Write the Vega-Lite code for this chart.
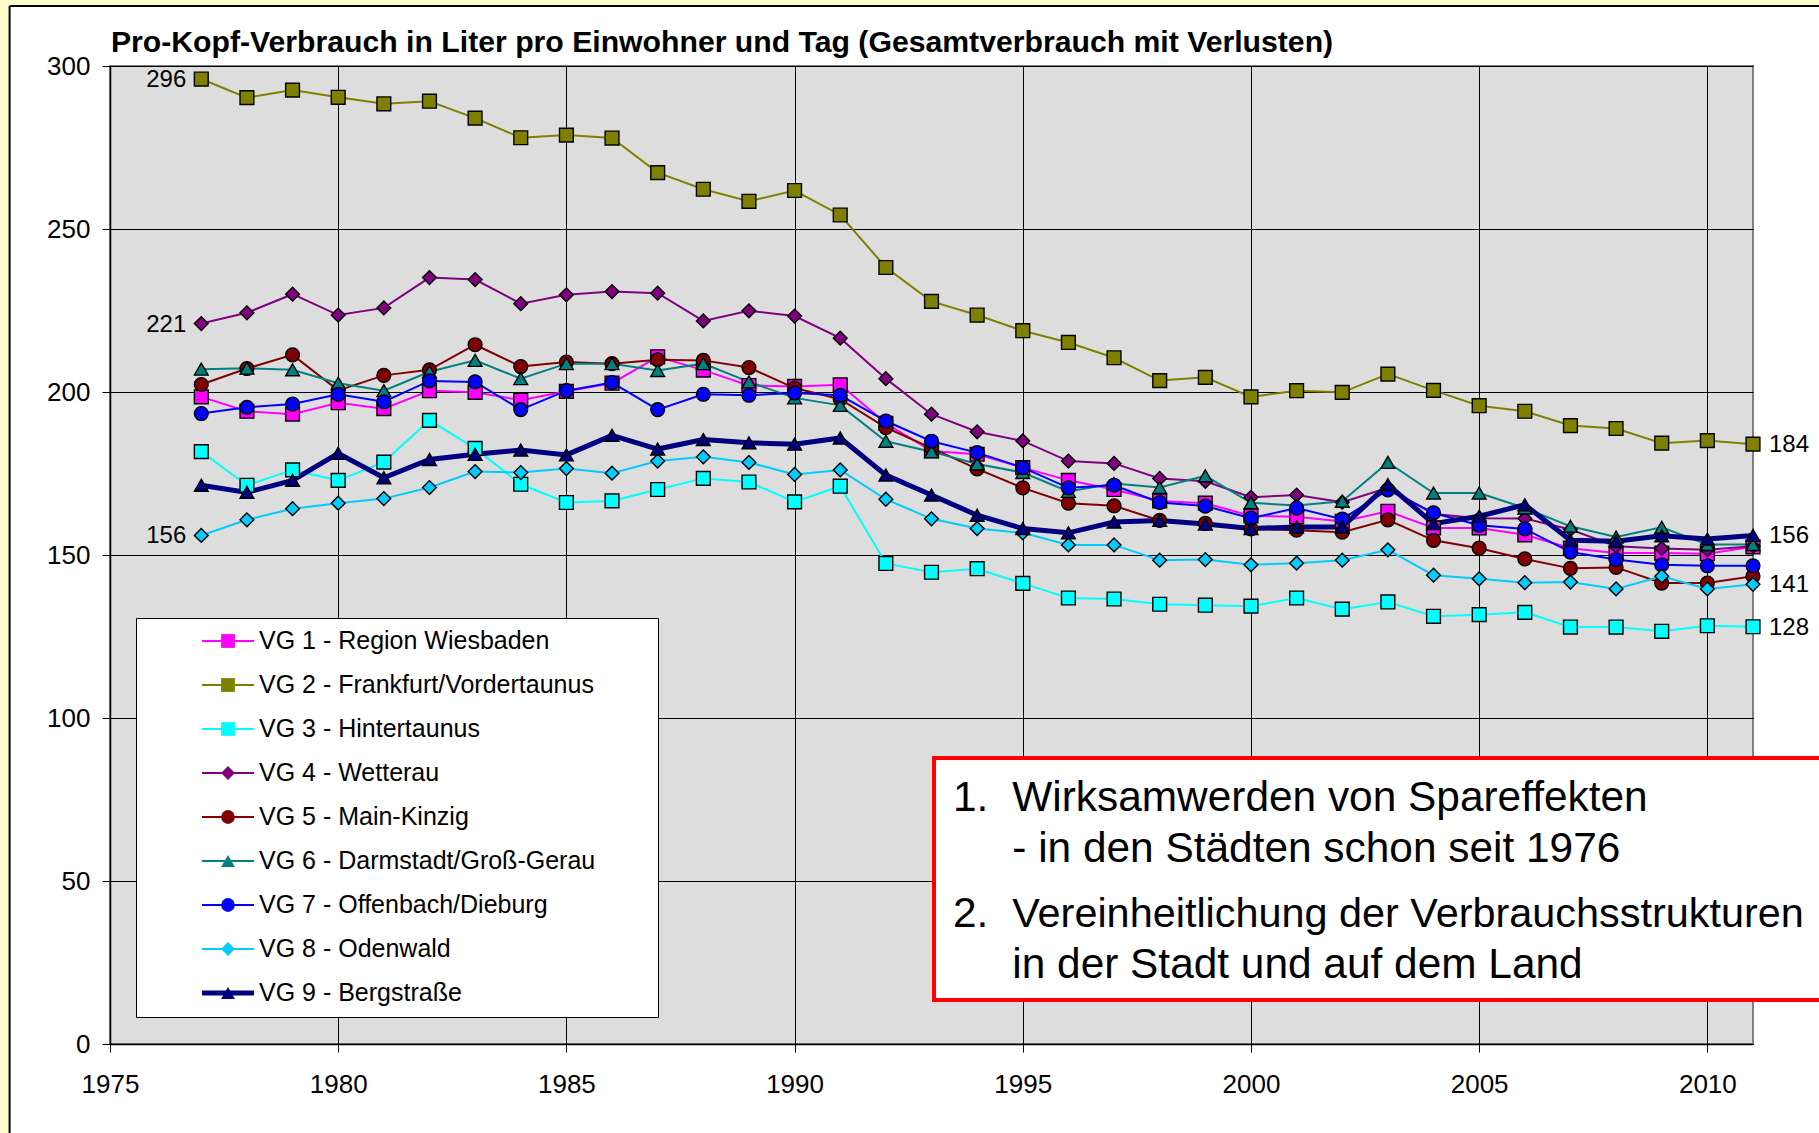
{
"$schema": "https://vega.github.io/schema/vega-lite/v6.json",
"autosize": {"type": "none"},
"width": 1643,
"height": 978,
"padding": {"left": 110, "top": 66, "right": 66, "bottom": 89},
"background": "white",
"config": {
  "font": "Liberation Sans",
  "view": {"fill": "#DDDDDD", "stroke": "#808080", "strokeWidth": 2},
  "axis": {"labelFont": "Liberation Sans", "labelFontSize": 26, "labelColor": "black", "tickColor": "black", "tickSize": 8, "tickWidth": 1, "domainColor": "black", "domainWidth": 1.5, "grid": true, "gridColor": "black", "gridWidth": 1, "gridOpacity": 1, "title": null, "labelFlush": false, "labelOverlap": false},
  "axisX": {"labelPadding": 19},
  "axisY": {"labelPadding": 12}
},
"datasets": {
  "gebiete": [
    {"VG": 1, "Name": "VG 1 - Region Wiesbaden"},
    {"VG": 2, "Name": "VG 2 - Frankfurt/Vordertaunus"},
    {"VG": 3, "Name": "VG 3 - Hintertaunus"},
    {"VG": 4, "Name": "VG 4 - Wetterau"},
    {"VG": 5, "Name": "VG 5 - Main-Kinzig"},
    {"VG": 6, "Name": "VG 6 - Darmstadt/Groß-Gerau"},
    {"VG": 7, "Name": "VG 7 - Offenbach/Dieburg"},
    {"VG": 8, "Name": "VG 8 - Odenwald"},
    {"VG": 9, "Name": "VG 9 - Bergstraße"}
  ],
  "verbrauch": [
{"Jahr":1977,"VG":1,"Liter":198.5},{"Jahr":1977,"VG":2,"Liter":296},{"Jahr":1977,"VG":3,"Liter":181.7},{"Jahr":1977,"VG":4,"Liter":221},{"Jahr":1977,"VG":5,"Liter":202.3},{"Jahr":1977,"VG":6,"Liter":207.0},{"Jahr":1977,"VG":7,"Liter":193.4},{"Jahr":1977,"VG":8,"Liter":156},{"Jahr":1977,"VG":9,"Liter":171.4},
{"Jahr":1978,"VG":1,"Liter":194.1},{"Jahr":1978,"VG":2,"Liter":290.3},{"Jahr":1978,"VG":3,"Liter":171.4},{"Jahr":1978,"VG":4,"Liter":224.3},{"Jahr":1978,"VG":5,"Liter":207.2},{"Jahr":1978,"VG":6,"Liter":207.3},{"Jahr":1978,"VG":7,"Liter":195.3},{"Jahr":1978,"VG":8,"Liter":160.8},{"Jahr":1978,"VG":9,"Liter":169.2},
{"Jahr":1979,"VG":1,"Liter":193.2},{"Jahr":1979,"VG":2,"Liter":292.6},{"Jahr":1979,"VG":3,"Liter":176.1},{"Jahr":1979,"VG":4,"Liter":230.0},{"Jahr":1979,"VG":5,"Liter":211.4},{"Jahr":1979,"VG":6,"Liter":206.8},{"Jahr":1979,"VG":7,"Liter":196.3},{"Jahr":1979,"VG":8,"Liter":164.2},{"Jahr":1979,"VG":9,"Liter":172.9},
{"Jahr":1980,"VG":1,"Liter":196.7},{"Jahr":1980,"VG":2,"Liter":290.4},{"Jahr":1980,"VG":3,"Liter":172.9},{"Jahr":1980,"VG":4,"Liter":223.6},{"Jahr":1980,"VG":5,"Liter":200.5},{"Jahr":1980,"VG":6,"Liter":202.7},{"Jahr":1980,"VG":7,"Liter":199.3},{"Jahr":1980,"VG":8,"Liter":165.9},{"Jahr":1980,"VG":9,"Liter":181.2},
{"Jahr":1981,"VG":1,"Liter":194.9},{"Jahr":1981,"VG":2,"Liter":288.4},{"Jahr":1981,"VG":3,"Liter":178.5},{"Jahr":1981,"VG":4,"Liter":225.8},{"Jahr":1981,"VG":5,"Liter":205.1},{"Jahr":1981,"VG":6,"Liter":200.4},{"Jahr":1981,"VG":7,"Liter":197.0},{"Jahr":1981,"VG":8,"Liter":167.3},{"Jahr":1981,"VG":9,"Liter":173.7},
{"Jahr":1982,"VG":1,"Liter":200.4},{"Jahr":1982,"VG":2,"Liter":289.2},{"Jahr":1982,"VG":3,"Liter":191.3},{"Jahr":1982,"VG":4,"Liter":235.1},{"Jahr":1982,"VG":5,"Liter":206.8},{"Jahr":1982,"VG":6,"Liter":206.2},{"Jahr":1982,"VG":7,"Liter":203.4},{"Jahr":1982,"VG":8,"Liter":170.7},{"Jahr":1982,"VG":9,"Liter":179.3},
{"Jahr":1983,"VG":1,"Liter":199.9},{"Jahr":1983,"VG":2,"Liter":284.0},{"Jahr":1983,"VG":3,"Liter":182.7},{"Jahr":1983,"VG":4,"Liter":234.5},{"Jahr":1983,"VG":5,"Liter":214.5},{"Jahr":1983,"VG":6,"Liter":209.7},{"Jahr":1983,"VG":7,"Liter":203.1},{"Jahr":1983,"VG":8,"Liter":175.6},{"Jahr":1983,"VG":9,"Liter":180.9},
{"Jahr":1984,"VG":1,"Liter":197.5},{"Jahr":1984,"VG":2,"Liter":278.0},{"Jahr":1984,"VG":3,"Liter":171.7},{"Jahr":1984,"VG":4,"Liter":227.1},{"Jahr":1984,"VG":5,"Liter":207.8},{"Jahr":1984,"VG":6,"Liter":204.1},{"Jahr":1984,"VG":7,"Liter":194.6},{"Jahr":1984,"VG":8,"Liter":175.3},{"Jahr":1984,"VG":9,"Liter":182.2},
{"Jahr":1985,"VG":1,"Liter":200.2},{"Jahr":1985,"VG":2,"Liter":278.8},{"Jahr":1985,"VG":3,"Liter":166.1},{"Jahr":1985,"VG":4,"Liter":229.8},{"Jahr":1985,"VG":5,"Liter":209.2},{"Jahr":1985,"VG":6,"Liter":208.7},{"Jahr":1985,"VG":7,"Liter":200.4},{"Jahr":1985,"VG":8,"Liter":176.5},{"Jahr":1985,"VG":9,"Liter":180.7},
{"Jahr":1986,"VG":1,"Liter":202.7},{"Jahr":1986,"VG":2,"Liter":277.9},{"Jahr":1986,"VG":3,"Liter":166.6},{"Jahr":1986,"VG":4,"Liter":230.8},{"Jahr":1986,"VG":5,"Liter":208.7},{"Jahr":1986,"VG":6,"Liter":208.7},{"Jahr":1986,"VG":7,"Liter":202.9},{"Jahr":1986,"VG":8,"Liter":175.1},{"Jahr":1986,"VG":9,"Liter":186.7},
{"Jahr":1987,"VG":1,"Liter":210.8},{"Jahr":1987,"VG":2,"Liter":267.3},{"Jahr":1987,"VG":3,"Liter":170.1},{"Jahr":1987,"VG":4,"Liter":230.3},{"Jahr":1987,"VG":5,"Liter":209.9},{"Jahr":1987,"VG":6,"Liter":206.6},{"Jahr":1987,"VG":7,"Liter":194.6},{"Jahr":1987,"VG":8,"Liter":178.8},{"Jahr":1987,"VG":9,"Liter":182.5},
{"Jahr":1988,"VG":1,"Liter":206.7},{"Jahr":1988,"VG":2,"Liter":262.2},{"Jahr":1988,"VG":3,"Liter":173.5},{"Jahr":1988,"VG":4,"Liter":221.8},{"Jahr":1988,"VG":5,"Liter":209.7},{"Jahr":1988,"VG":6,"Liter":208.7},{"Jahr":1988,"VG":7,"Liter":199.3},{"Jahr":1988,"VG":8,"Liter":180.1},{"Jahr":1988,"VG":9,"Liter":185.4},
{"Jahr":1989,"VG":1,"Liter":202.0},{"Jahr":1989,"VG":2,"Liter":258.5},{"Jahr":1989,"VG":3,"Liter":172.4},{"Jahr":1989,"VG":4,"Liter":224.9},{"Jahr":1989,"VG":5,"Liter":207.5},{"Jahr":1989,"VG":6,"Liter":203.1},{"Jahr":1989,"VG":7,"Liter":199.0},{"Jahr":1989,"VG":8,"Liter":178.4},{"Jahr":1989,"VG":9,"Liter":184.4},
{"Jahr":1990,"VG":1,"Liter":201.7},{"Jahr":1990,"VG":2,"Liter":261.8},{"Jahr":1990,"VG":3,"Liter":166.3},{"Jahr":1990,"VG":4,"Liter":223.3},{"Jahr":1990,"VG":5,"Liter":201.2},{"Jahr":1990,"VG":6,"Liter":198.2},{"Jahr":1990,"VG":7,"Liter":199.7},{"Jahr":1990,"VG":8,"Liter":174.7},{"Jahr":1990,"VG":9,"Liter":184.0},
{"Jahr":1991,"VG":1,"Liter":202.2},{"Jahr":1991,"VG":2,"Liter":254.3},{"Jahr":1991,"VG":3,"Liter":171.1},{"Jahr":1991,"VG":4,"Liter":216.5},{"Jahr":1991,"VG":5,"Liter":197.8},{"Jahr":1991,"VG":6,"Liter":195.9},{"Jahr":1991,"VG":7,"Liter":199.0},{"Jahr":1991,"VG":8,"Liter":176.1},{"Jahr":1991,"VG":9,"Liter":185.9},
{"Jahr":1992,"VG":1,"Liter":190.4},{"Jahr":1992,"VG":2,"Liter":238.2},{"Jahr":1992,"VG":3,"Liter":147.4},{"Jahr":1992,"VG":4,"Liter":204.1},{"Jahr":1992,"VG":5,"Liter":189.1},{"Jahr":1992,"VG":6,"Liter":184.9},{"Jahr":1992,"VG":7,"Liter":191.1},{"Jahr":1992,"VG":8,"Liter":167.1},{"Jahr":1992,"VG":9,"Liter":174.5},
{"Jahr":1993,"VG":1,"Liter":181.9},{"Jahr":1993,"VG":2,"Liter":227.8},{"Jahr":1993,"VG":3,"Liter":144.7},{"Jahr":1993,"VG":4,"Liter":193.2},{"Jahr":1993,"VG":5,"Liter":182.8},{"Jahr":1993,"VG":6,"Liter":181.7},{"Jahr":1993,"VG":7,"Liter":184.9},{"Jahr":1993,"VG":8,"Liter":161.1},{"Jahr":1993,"VG":9,"Liter":168.4},
{"Jahr":1994,"VG":1,"Liter":180.9},{"Jahr":1994,"VG":2,"Liter":223.6},{"Jahr":1994,"VG":3,"Liter":145.8},{"Jahr":1994,"VG":4,"Liter":187.8},{"Jahr":1994,"VG":5,"Liter":176.4},{"Jahr":1994,"VG":6,"Liter":177.9},{"Jahr":1994,"VG":7,"Liter":181.4},{"Jahr":1994,"VG":8,"Liter":158.1},{"Jahr":1994,"VG":9,"Liter":162.2},
{"Jahr":1995,"VG":1,"Liter":176.8},{"Jahr":1995,"VG":2,"Liter":218.8},{"Jahr":1995,"VG":3,"Liter":141.3},{"Jahr":1995,"VG":4,"Liter":185.0},{"Jahr":1995,"VG":5,"Liter":170.6},{"Jahr":1995,"VG":6,"Liter":175.3},{"Jahr":1995,"VG":7,"Liter":176.8},{"Jahr":1995,"VG":8,"Liter":156.8},{"Jahr":1995,"VG":9,"Liter":158.1},
{"Jahr":1996,"VG":1,"Liter":172.9},{"Jahr":1996,"VG":2,"Liter":215.2},{"Jahr":1996,"VG":3,"Liter":136.8},{"Jahr":1996,"VG":4,"Liter":178.8},{"Jahr":1996,"VG":5,"Liter":165.9},{"Jahr":1996,"VG":6,"Liter":169.5},{"Jahr":1996,"VG":7,"Liter":170.6},{"Jahr":1996,"VG":8,"Liter":153.1},{"Jahr":1996,"VG":9,"Liter":156.8},
{"Jahr":1997,"VG":1,"Liter":170.1},{"Jahr":1997,"VG":2,"Liter":210.5},{"Jahr":1997,"VG":3,"Liter":136.5},{"Jahr":1997,"VG":4,"Liter":178.1},{"Jahr":1997,"VG":5,"Liter":165.1},{"Jahr":1997,"VG":6,"Liter":171.9},{"Jahr":1997,"VG":7,"Liter":171.4},{"Jahr":1997,"VG":8,"Liter":153.1},{"Jahr":1997,"VG":9,"Liter":160.1},
{"Jahr":1998,"VG":1,"Liter":166.6},{"Jahr":1998,"VG":2,"Liter":203.5},{"Jahr":1998,"VG":3,"Liter":134.9},{"Jahr":1998,"VG":4,"Liter":173.5},{"Jahr":1998,"VG":5,"Liter":160.6},{"Jahr":1998,"VG":6,"Liter":170.7},{"Jahr":1998,"VG":7,"Liter":166.1},{"Jahr":1998,"VG":8,"Liter":148.4},{"Jahr":1998,"VG":9,"Liter":160.6},
{"Jahr":1999,"VG":1,"Liter":165.9},{"Jahr":1999,"VG":2,"Liter":204.5},{"Jahr":1999,"VG":3,"Liter":134.6},{"Jahr":1999,"VG":4,"Liter":172.6},{"Jahr":1999,"VG":5,"Liter":159.7},{"Jahr":1999,"VG":6,"Liter":174.3},{"Jahr":1999,"VG":7,"Liter":165.0},{"Jahr":1999,"VG":8,"Liter":148.6},{"Jahr":1999,"VG":9,"Liter":159.5},
{"Jahr":2000,"VG":1,"Liter":162.0},{"Jahr":2000,"VG":2,"Liter":198.5},{"Jahr":2000,"VG":3,"Liter":134.3},{"Jahr":2000,"VG":4,"Liter":167.7},{"Jahr":2000,"VG":5,"Liter":158.0},{"Jahr":2000,"VG":6,"Liter":166.0},{"Jahr":2000,"VG":7,"Liter":161.3},{"Jahr":2000,"VG":8,"Liter":147.0},{"Jahr":2000,"VG":9,"Liter":158.1},
{"Jahr":2001,"VG":1,"Liter":161.7},{"Jahr":2001,"VG":2,"Liter":200.4},{"Jahr":2001,"VG":3,"Liter":136.8},{"Jahr":2001,"VG":4,"Liter":168.4},{"Jahr":2001,"VG":5,"Liter":157.6},{"Jahr":2001,"VG":6,"Liter":165.2},{"Jahr":2001,"VG":7,"Liter":164.4},{"Jahr":2001,"VG":8,"Liter":147.5},{"Jahr":2001,"VG":9,"Liter":158.6},
{"Jahr":2002,"VG":1,"Liter":160.3},{"Jahr":2002,"VG":2,"Liter":199.9},{"Jahr":2002,"VG":3,"Liter":133.4},{"Jahr":2002,"VG":4,"Liter":166.2},{"Jahr":2002,"VG":5,"Liter":157.0},{"Jahr":2002,"VG":6,"Liter":166.5},{"Jahr":2002,"VG":7,"Liter":161.0},{"Jahr":2002,"VG":8,"Liter":148.4},{"Jahr":2002,"VG":9,"Liter":158.6},
{"Jahr":2003,"VG":1,"Liter":163.4},{"Jahr":2003,"VG":2,"Liter":205.5},{"Jahr":2003,"VG":3,"Liter":135.6},{"Jahr":2003,"VG":4,"Liter":170.6},{"Jahr":2003,"VG":5,"Liter":160.8},{"Jahr":2003,"VG":6,"Liter":178.4},{"Jahr":2003,"VG":7,"Liter":170.0},{"Jahr":2003,"VG":8,"Liter":151.6},{"Jahr":2003,"VG":9,"Liter":171.6},
{"Jahr":2004,"VG":1,"Liter":158.3},{"Jahr":2004,"VG":2,"Liter":200.5},{"Jahr":2004,"VG":3,"Liter":131.2},{"Jahr":2004,"VG":4,"Liter":162.6},{"Jahr":2004,"VG":5,"Liter":154.5},{"Jahr":2004,"VG":6,"Liter":169.0},{"Jahr":2004,"VG":7,"Liter":162.9},{"Jahr":2004,"VG":8,"Liter":143.8},{"Jahr":2004,"VG":9,"Liter":159.6},
{"Jahr":2005,"VG":1,"Liter":158.3},{"Jahr":2005,"VG":2,"Liter":195.8},{"Jahr":2005,"VG":3,"Liter":131.7},{"Jahr":2005,"VG":4,"Liter":161.3},{"Jahr":2005,"VG":5,"Liter":152.1},{"Jahr":2005,"VG":6,"Liter":169.0},{"Jahr":2005,"VG":7,"Liter":159.1},{"Jahr":2005,"VG":8,"Liter":142.7},{"Jahr":2005,"VG":9,"Liter":161.9},
{"Jahr":2006,"VG":1,"Liter":156.2},{"Jahr":2006,"VG":2,"Liter":194.1},{"Jahr":2006,"VG":3,"Liter":132.4},{"Jahr":2006,"VG":4,"Liter":161.2},{"Jahr":2006,"VG":5,"Liter":148.8},{"Jahr":2006,"VG":6,"Liter":164.4},{"Jahr":2006,"VG":7,"Liter":158.0},{"Jahr":2006,"VG":8,"Liter":141.5},{"Jahr":2006,"VG":9,"Liter":165.4},
{"Jahr":2007,"VG":1,"Liter":152.1},{"Jahr":2007,"VG":2,"Liter":189.7},{"Jahr":2007,"VG":3,"Liter":127.9},{"Jahr":2007,"VG":4,"Liter":157.8},{"Jahr":2007,"VG":5,"Liter":145.9},{"Jahr":2007,"VG":6,"Liter":158.8},{"Jahr":2007,"VG":7,"Liter":150.9},{"Jahr":2007,"VG":8,"Liter":141.7},{"Jahr":2007,"VG":9,"Liter":154.5},
{"Jahr":2008,"VG":1,"Liter":150.6},{"Jahr":2008,"VG":2,"Liter":188.8},{"Jahr":2008,"VG":3,"Liter":127.9},{"Jahr":2008,"VG":4,"Liter":152.7},{"Jahr":2008,"VG":5,"Liter":146.2},{"Jahr":2008,"VG":6,"Liter":155.5},{"Jahr":2008,"VG":7,"Liter":148.6},{"Jahr":2008,"VG":8,"Liter":139.6},{"Jahr":2008,"VG":9,"Liter":154.2},
{"Jahr":2009,"VG":1,"Liter":150.6},{"Jahr":2009,"VG":2,"Liter":184.3},{"Jahr":2009,"VG":3,"Liter":126.6},{"Jahr":2009,"VG":4,"Liter":152.0},{"Jahr":2009,"VG":5,"Liter":141.4},{"Jahr":2009,"VG":6,"Liter":158.5},{"Jahr":2009,"VG":7,"Liter":147.0},{"Jahr":2009,"VG":8,"Liter":143.5},{"Jahr":2009,"VG":9,"Liter":155.9},
{"Jahr":2010,"VG":1,"Liter":150.4},{"Jahr":2010,"VG":2,"Liter":185.1},{"Jahr":2010,"VG":3,"Liter":128.3},{"Jahr":2010,"VG":4,"Liter":151.6},{"Jahr":2010,"VG":5,"Liter":141.4},{"Jahr":2010,"VG":6,"Liter":153.2},{"Jahr":2010,"VG":7,"Liter":146.7},{"Jahr":2010,"VG":8,"Liter":139.6},{"Jahr":2010,"VG":9,"Liter":154.9},
{"Jahr":2011,"VG":1,"Liter":152.5},{"Jahr":2011,"VG":2,"Liter":184},{"Jahr":2011,"VG":3,"Liter":128},{"Jahr":2011,"VG":4,"Liter":152.7},{"Jahr":2011,"VG":5,"Liter":143.5},{"Jahr":2011,"VG":6,"Liter":153.2},{"Jahr":2011,"VG":7,"Liter":146.7},{"Jahr":2011,"VG":8,"Liter":141},{"Jahr":2011,"VG":9,"Liter":156}
  ]
},
"layer": [
  {
    "data": {"name": "verbrauch"},
    "transform": [{"lookup": "VG", "from": {"data": {"name": "gebiete"}, "key": "VG", "fields": ["Name"]}}],
    "mark": {"type": "line", "clip": false},
    "encoding": {
      "x": {"field": "Jahr", "type": "quantitative", "scale": {"domain": [1975, 2011], "nice": false, "zero": false}, "axis": {"values": [1975, 1980, 1985, 1990, 1995, 2000, 2005, 2010], "format": "d", "title": null}},
      "y": {"field": "Liter", "type": "quantitative", "scale": {"domain": [0, 300], "nice": false, "zero": true}, "axis": {"values": [0, 50, 100, 150, 200, 250, 300], "title": null}},
      "stroke": {"field": "Name", "type": "nominal",
        "scale": {"domain": ["VG 1 - Region Wiesbaden", "VG 2 - Frankfurt/Vordertaunus", "VG 3 - Hintertaunus", "VG 4 - Wetterau", "VG 5 - Main-Kinzig", "VG 6 - Darmstadt/Groß-Gerau", "VG 7 - Offenbach/Dieburg", "VG 8 - Odenwald", "VG 9 - Bergstraße"],
                  "range": ["#FF00FF", "#808000", "#00FFFF", "#800080", "#800000", "#008080", "#0000FF", "#00CCFF", "#000080"]},
        "legend": {"orient": "none", "legendX": 26, "legendY": 552, "title": null, "padding": 10.5, "fillColor": "white", "strokeColor": "black",
          "symbolType": "M-4,0H4", "symbolSize": 169, "symbolStrokeWidth": 2, "symbolOffset": 69,
          "labelFont": "Liberation Sans", "labelFontSize": 25, "labelOffset": 407, "labelExpr": "' '", "labelLimit": 2000,
          "rowPadding": 18, "zindex": 0,
          "encode": {"symbols": {"update": {"strokeWidth": {"signal": "datum.value === 'VG 9 - Bergstraße' ? 5 : 2"}}}}}
      },
      "strokeWidth": {"condition": {"test": "datum.VG === 9", "value": 5}, "value": 2}
    }
  },
  {
    "data": {"name": "verbrauch"},
    "transform": [{"lookup": "VG", "from": {"data": {"name": "gebiete"}, "key": "VG", "fields": ["Name"]}}],
    "mark": {"type": "point", "filled": true, "stroke": "black", "strokeWidth": 1.4, "size": 190, "opacity": 1, "clip": false},
    "encoding": {
      "x": {"field": "Jahr", "type": "quantitative", "scale": {"domain": [1975, 2011], "nice": false, "zero": false}},
      "y": {"field": "Liter", "type": "quantitative", "scale": {"domain": [0, 300], "nice": false, "zero": true}},
      "fill": {"field": "Name", "type": "nominal",
        "scale": {"range": ["#FF00FF", "#808000", "#00FFFF", "#800080", "#800000", "#008080", "#0000FF", "#00CCFF", "#000080"]},
        "legend": {"orient": "none", "legendX": 105.5, "legendY": 562.5, "title": null, "padding": 0,
          "symbolSize": 190, "symbolStrokeColor": "black", "symbolStrokeWidth": 1.5,
          "labelFont": "Liberation Sans", "labelFontSize": 25, "labelColor": "black", "labelOffset": 18.5, "labelLimit": 2000,
          "rowPadding": 18, "zindex": 1}},
      "shape": {"field": "Name", "type": "nominal",
        "scale": {"range": ["square", "square", "square", "diamond", "circle", "triangle-up", "circle", "diamond", "triangle-up"]},
        "legend": {"orient": "none", "legendX": 105.5, "legendY": 562.5, "title": null, "padding": 0,
          "symbolSize": 190, "symbolStrokeColor": "black", "symbolStrokeWidth": 1.5,
          "labelFont": "Liberation Sans", "labelFontSize": 25, "labelColor": "black", "labelOffset": 18.5, "labelLimit": 2000,
          "rowPadding": 18, "zindex": 1}}
    }
  },
  {
    "data": {"name": "verbrauch"},
    "transform": [{"filter": "datum.Jahr === 1977 && (datum.VG === 2 || datum.VG === 4 || datum.VG === 8)"}],
    "mark": {"type": "text", "align": "right", "baseline": "middle", "dx": -15, "dy": 1, "fontSize": 24, "font": "Liberation Sans", "color": "black", "clip": false},
    "encoding": {
      "x": {"field": "Jahr", "type": "quantitative", "scale": {"domain": [1975, 2011], "nice": false, "zero": false}},
      "y": {"field": "Liter", "type": "quantitative", "scale": {"domain": [0, 300], "nice": false, "zero": true}},
      "text": {"field": "Liter", "type": "quantitative", "format": ".0f"}
    }
  },
  {
    "data": {"name": "verbrauch"},
    "transform": [{"filter": "datum.Jahr === 2011 && (datum.VG === 2 || datum.VG === 3 || datum.VG === 8 || datum.VG === 9)"}],
    "mark": {"type": "text", "align": "left", "baseline": "middle", "dx": 16, "dy": 1, "fontSize": 24, "font": "Liberation Sans", "color": "black", "clip": false},
    "encoding": {
      "x": {"field": "Jahr", "type": "quantitative", "scale": {"domain": [1975, 2011], "nice": false, "zero": false}},
      "y": {"field": "Liter", "type": "quantitative", "scale": {"domain": [0, 300], "nice": false, "zero": true}},
      "text": {"field": "Liter", "type": "quantitative", "format": ".0f"}
    }
  },
  {
    "data": {"values": [{}]},
    "mark": {"type": "rect", "fill": "#FFFFCC", "clip": false},
    "encoding": {"x": {"datum": 1960, "type": "quantitative"}, "x2": {"datum": 2030}, "y": {"datum": 320.245, "type": "quantitative"}, "y2": {"datum": 318.7}}
  },
  {
    "data": {"values": [{}]},
    "mark": {"type": "rect", "fill": "#FFFFCC", "clip": false},
    "encoding": {"x": {"datum": 1960, "type": "quantitative"}, "x2": {"datum": 1972.79}, "y": {"datum": 320.245, "type": "quantitative"}, "y2": {"datum": -40}}
  },
  {
    "data": {"values": [{}]},
    "mark": {"type": "rule", "color": "black", "strokeWidth": 2, "clip": false},
    "encoding": {"x": {"datum": 1972.8, "type": "quantitative"}, "x2": {"datum": 2030}, "y": {"datum": 318.4, "type": "quantitative"}}
  },
  {
    "data": {"values": [{}]},
    "mark": {"type": "rule", "color": "black", "strokeWidth": 2, "clip": false},
    "encoding": {"x": {"datum": 1972.8, "type": "quantitative"}, "y": {"datum": 318.4, "type": "quantitative"}, "y2": {"datum": -40}}
  },
  {
    "data": {"values": [{}]},
    "mark": {"type": "text", "text": "Pro-Kopf-Verbrauch in Liter pro Einwohner und Tag (Gesamtverbrauch mit Verlusten)", "align": "left", "baseline": "alphabetic", "fontSize": 30.2, "fontWeight": "bold", "font": "Liberation Sans", "color": "black", "clip": false},
    "encoding": {"x": {"datum": 1975.02, "type": "quantitative"}, "y": {"datum": 304.3, "type": "quantitative"}}
  },
  {
    "data": {"values": [{}]},
    "mark": {"type": "rect", "fill": "white", "stroke": "#FF0000", "strokeWidth": 4, "clip": false},
    "encoding": {"x": {"datum": 1993.055, "type": "quantitative"}, "x2": {"datum": 2016}, "y": {"datum": 87.7, "type": "quantitative"}, "y2": {"datum": 13.5}}
  },
  {
    "data": {"values": [{}]},
    "mark": {"type": "text", "text": "1.", "align": "left", "baseline": "alphabetic", "fontSize": 42.4, "font": "Liberation Sans", "color": "black", "clip": false},
    "encoding": {"x": {"datum": 1993.47, "type": "quantitative"}, "y": {"datum": 71.32, "type": "quantitative"}}
  },
  {
    "data": {"values": [{}]},
    "mark": {"type": "text", "text": "Wirksamwerden von Spareffekten", "align": "left", "baseline": "alphabetic", "fontSize": 42.4, "font": "Liberation Sans", "color": "black", "clip": false},
    "encoding": {"x": {"datum": 1994.77, "type": "quantitative"}, "y": {"datum": 71.32, "type": "quantitative"}}
  },
  {
    "data": {"values": [{}]},
    "mark": {"type": "text", "text": "- in den Städten schon seit 1976", "align": "left", "baseline": "alphabetic", "fontSize": 42.4, "font": "Liberation Sans", "color": "black", "clip": false},
    "encoding": {"x": {"datum": 1994.77, "type": "quantitative"}, "y": {"datum": 55.95, "type": "quantitative"}}
  },
  {
    "data": {"values": [{}]},
    "mark": {"type": "text", "text": "2.", "align": "left", "baseline": "alphabetic", "fontSize": 42.4, "font": "Liberation Sans", "color": "black", "clip": false},
    "encoding": {"x": {"datum": 1993.47, "type": "quantitative"}, "y": {"datum": 35.92, "type": "quantitative"}}
  },
  {
    "data": {"values": [{}]},
    "mark": {"type": "text", "text": "Vereinheitlichung der Verbrauchsstrukturen", "align": "left", "baseline": "alphabetic", "fontSize": 41.4, "font": "Liberation Sans", "color": "black", "clip": false},
    "encoding": {"x": {"datum": 1994.77, "type": "quantitative"}, "y": {"datum": 35.92, "type": "quantitative"}}
  },
  {
    "data": {"values": [{}]},
    "mark": {"type": "text", "text": "in der Stadt und auf dem Land", "align": "left", "baseline": "alphabetic", "fontSize": 42.4, "font": "Liberation Sans", "color": "black", "clip": false},
    "encoding": {"x": {"datum": 1994.77, "type": "quantitative"}, "y": {"datum": 20.28, "type": "quantitative"}}
  }
]
}
